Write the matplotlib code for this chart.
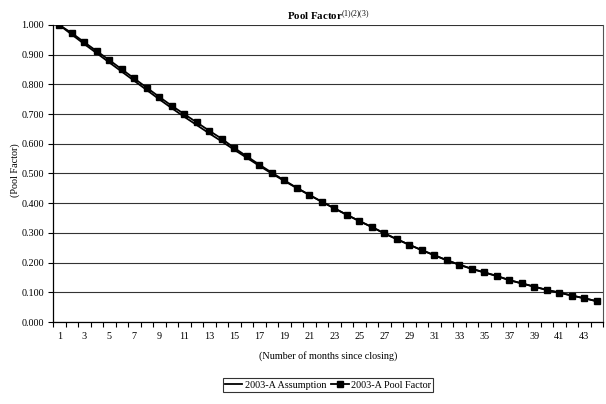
import matplotlib
matplotlib.use("Agg")
import matplotlib.pyplot as plt
from matplotlib.ticker import FuncFormatter, MultipleLocator

plt.rcParams['font.family'] = ['Liberation Serif', 'DejaVu Serif']
plt.rcParams['mathtext.fontset'] = 'custom'
plt.rcParams['mathtext.rm'] = 'Liberation Serif'
plt.rcParams['mathtext.it'] = 'Liberation Serif:italic'
plt.rcParams['mathtext.bf'] = 'Liberation Serif:bold'

months = list(range(1, 45))
assumption = [1.000, 0.968, 0.936, 0.905, 0.874, 0.843, 0.812, 0.781, 0.750, 0.720,
              0.691, 0.663, 0.635, 0.608, 0.580, 0.553, 0.526, 0.500, 0.475, 0.451,
              0.428, 0.405, 0.383, 0.361, 0.340, 0.320, 0.299, 0.279, 0.260, 0.242,
              0.225, 0.208, 0.193, 0.179, 0.167, 0.155, 0.141, 0.130, 0.119, 0.108,
              0.099, 0.089, 0.080, 0.070]
pool_factor = [1.000, 0.973, 0.942, 0.912, 0.882, 0.851, 0.820, 0.789, 0.758, 0.728,
               0.700, 0.672, 0.644, 0.617, 0.586, 0.558, 0.530, 0.503, 0.477, 0.452,
               0.428, 0.405, 0.383, 0.361, 0.340, 0.320, 0.298, 0.279, 0.260, 0.242,
               0.225, 0.208, 0.193, 0.179, 0.167, 0.155, 0.141, 0.130, 0.119, 0.108,
               0.099, 0.089, 0.080, 0.070]
x_tick_labels = [str(m) for m in range(1, 45, 2)]
series_names = ["2003-A Assumption", "2003-A Pool Factor"]

W, H = 606, 404
fig = plt.figure(figsize=(W / 100, H / 100), dpi=100)
ax = fig.add_axes([53 / W, 1 - 322 / H, (603 - 53) / W, (322 - 25) / H])

ax.plot(months, assumption, color='black', lw=1.3, label=series_names[0], zorder=3)
ax.plot(months, pool_factor, color='black', lw=1.3, marker='s', markersize=4.2,
        label=series_names[1], zorder=4)

ax.set_xlim(0.5, 44.5)
ax.set_ylim(0, 1.0)
ax.yaxis.set_major_locator(MultipleLocator(0.1))
ax.yaxis.set_major_formatter(FuncFormatter(lambda v, p: f"{v:.3f}"))
ax.set_xticks([m + 0.5 for m in range(0, 45)])
ax.set_xticklabels([])
ax.set_xticks(range(1, 45, 2), minor=True)
ax.set_xticklabels(x_tick_labels, minor=True)
ax.tick_params(axis='x', which='major', direction='out', length=3.5, width=0.8, color='black')
ax.tick_params(axis='x', which='minor', length=0, pad=7.5, labelsize=7.3)
ax.tick_params(axis='y', direction='out', length=3.5, width=0.8, pad=3, labelsize=7.3)

ax.grid(axis='y', color='#333333', lw=0.8)
ax.set_axisbelow(True)
for s in ['left', 'bottom']:
    ax.spines[s].set_color('black')
    ax.spines[s].set_linewidth(0.9)
ax.spines['top'].set_visible(False)
ax.spines['right'].set_color('#555555')
ax.spines['right'].set_linewidth(0.8)

fig.text(328 / W, 1 - 356 / H, "(Number of months since closing)", ha='center', va='center', fontsize=7.3)
fig.text(15 / W, 1 - 170 / H, "(Pool Factor)", rotation=90, ha='center', va='center', fontsize=7.3)
fig.text(328 / W, 1 - 15 / H, r"Pool Factor$^{\rm (1)(2)(3)}$", ha='center', va='center',
         fontsize=7.8, fontweight='bold')

leg = fig.legend(loc='center', bbox_to_anchor=(328 / W, 1 - 385 / H), ncol=2, frameon=True,
                 fancybox=False, edgecolor='black', fontsize=7.3, handlelength=1.7,
                 handletextpad=0.25, columnspacing=0.5, borderpad=0.2, borderaxespad=0)
leg.get_frame().set_linewidth(0.8)

fig.savefig("out.png", dpi=100)
